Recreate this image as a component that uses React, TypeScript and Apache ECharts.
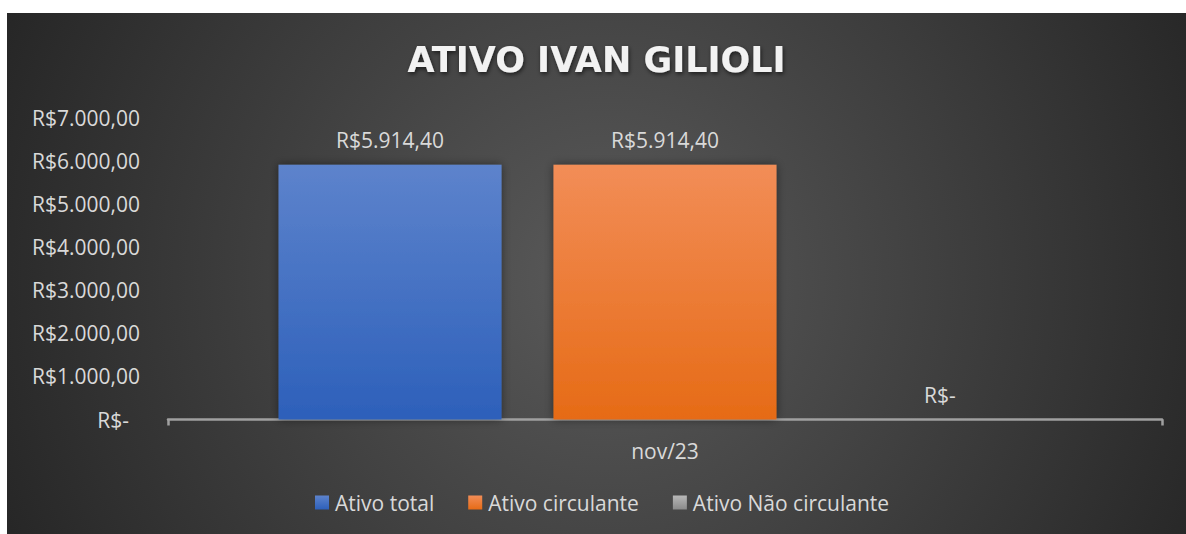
import React, { useEffect, useRef } from "react";
import * as echarts from "echarts";

const categories = ["nov/23"];
const seriesNames = ["Ativo total", "Ativo circulante", "Ativo Não circulante"];
const ativoTotal = [5914.4];
const ativoCirculante = [5914.4];
const ativoNaoCirculante = [0];
const yMin = 0;
const yMax = 7000;
const yInterval = 1000;

const FONT = "'Open Sans', sans-serif";
const TITLE_FONT = "'DejaVu Sans', sans-serif";
const TEXT = "#d9d9d9";
const FS = 21;

function brl(v: number): string {
  if (v === 0) return "R$-";
  const [i, d] = v.toFixed(2).split(".");
  return "R$" + i.replace(/\B(?=(\d{3})+(?!\d))/g, ".") + "," + d;
}

function grad(top: string, bottom: string) {
  return new echarts.graphic.LinearGradient(0, 0, 0, 1, [
    { offset: 0, color: top },
    { offset: 1, color: bottom },
  ]);
}

export default function App() {
  const ref = useRef<HTMLDivElement>(null);
  useEffect(() => {
    if (!ref.current) return;
    const chart = echarts.init(ref.current, undefined, { renderer: "svg" });
    const colors = [
      grad("#5d83cc", "#2d60ba"),
      grad("#f28d57", "#e66b16"),
      grad("#b8b8b8", "#8a8a8a"),
    ];
    const datasets = [ativoTotal, ativoCirculante, ativoNaoCirculante];
    chart.setOption({
      animation: false,
      backgroundColor: new echarts.graphic.RadialGradient(
        600,
        265,
        660,
        [
          { offset: 0, color: "#5a5a5a" },
          { offset: 1, color: "#262626" },
        ],
        true
      ),
      title: {
        text: "ATIVO IVAN GILIOLI",
        left: "center",
        top: 24,
        textStyle: {
          color: "#f2f2f2",
          fontSize: 35,
          fontWeight: "bold",
          fontFamily: TITLE_FONT,
          textShadowColor: "rgba(0,0,0,0.6)",
          textShadowBlur: 4,
          textShadowOffsetX: 1,
          textShadowOffsetY: 2,
        },
      },
      legend: {
        data: seriesNames,
        left: 303,
        top: 474,
        itemWidth: 14,
        itemHeight: 14,
        itemGap: 34,
        icon: "rect",
        textStyle: { color: TEXT, fontSize: FS, fontFamily: FONT, padding: [0, 0, 0, 1] },
      },
      grid: { left: 161, right: 24, top: 105, bottom: 114.5 },
      xAxis: {
        type: "category",
        data: categories,
        boundaryGap: true,
        axisLine: { lineStyle: { color: "#a0a0a0", width: 2.5 } },
        axisTick: { show: true, length: 6, lineStyle: { color: "#a0a0a0", width: 2.5 } },
        axisLabel: { color: TEXT, fontSize: FS, fontFamily: FONT, margin: 21 },
      },
      yAxis: {
        type: "value",
        min: yMin,
        max: yMax,
        interval: yInterval,
        splitLine: { show: false },
        axisLine: { show: false },
        axisTick: { show: false },
        axisLabel: {
          color: TEXT,
          fontSize: FS,
          fontFamily: FONT,
          margin: 28,
          formatter: (v: number) => (v === 0 ? "{z|R$-}" : brl(v)),
          rich: {
            z: { color: TEXT, fontSize: FS, fontFamily: FONT, padding: [0, 11, 0, 0] },
          },
        },
      },
      series: seriesNames.map((name, i) => ({
        name,
        type: "bar",
        data: datasets[i],
        barWidth: 223,
        barGap: "23.3%",
        itemStyle: {
          color: colors[i],
          shadowColor: "rgba(0,0,0,0.45)",
          shadowBlur: 10,
          shadowOffsetX: 0,
          shadowOffsetY: 0,
        },
        label: {
          show: true,
          position: "top",
          distance: 14,
          color: TEXT,
          fontSize: FS,
          fontFamily: FONT,
          formatter: (p: any) => brl(p.value),
        },
      })),
    });
    return () => chart.dispose();
  }, []);
  return (
    <div
      ref={ref}
      style={{ position: "absolute", left: 7, top: 13, width: 1179, height: 521 }}
    />
  );
}
